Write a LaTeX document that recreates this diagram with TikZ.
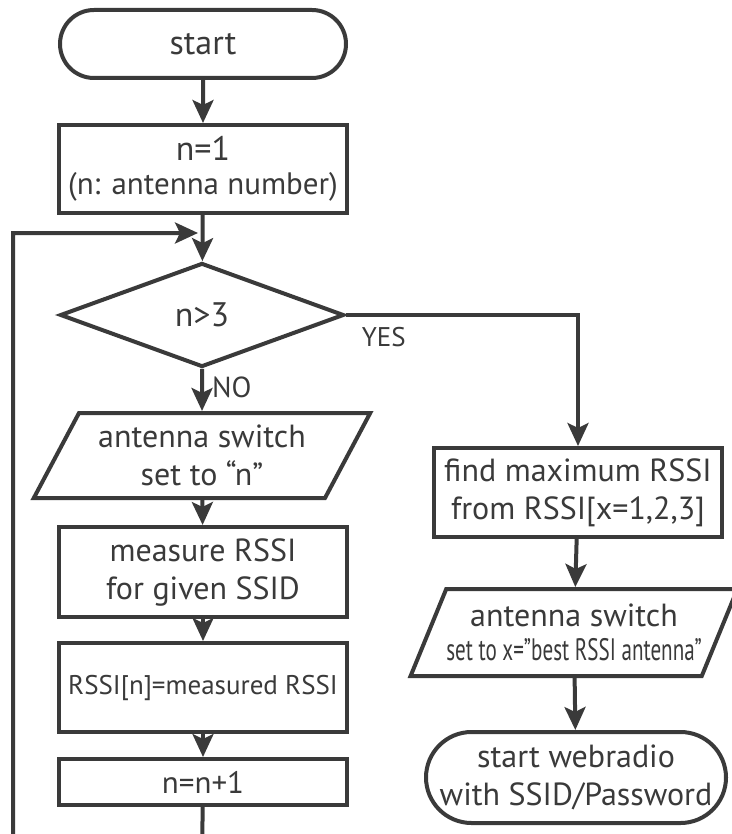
\documentclass[tikz,border=0pt]{standalone}
\usepackage{fontspec}
\setmainfont{PT Sans}
\usepackage{graphicx}
\usetikzlibrary{shapes.geometric,shapes.misc,arrows.meta}
\definecolor{ink}{HTML}{3A3A3A}

\begin{document}
\begin{tikzpicture}[x=0.5pt, y=-0.5pt, line join=miter, >={Stealth[length=11.5pt,width=10.5pt,inset=2.5pt]},
	font=\fontsize{16}{19}\selectfont,
	every node/.style={text=ink, align=center, inner sep=0pt},
	flow/.style={draw=ink, line width=2pt, fill=white},
	box/.style={flow, rectangle, minimum width=144pt},
	term/.style={flow, rounded rectangle, minimum width=143pt},
	io/.style={flow, trapezium, trapezium left angle=58, trapezium right angle=122, trapezium stretches=true},
	test/.style={flow, diamond, minimum width=142pt, minimum height=52pt},
	link/.style={draw=ink, line width=2pt, ->},
	big/.style={font=\fontsize{17}{20}\selectfont},
	small/.style={font=\fontsize{15.5}{18}\selectfont}]
	
	\useasboundingbox (0,0) rectangle (732,834);
	\clip (0,0) rectangle (732,834);
	
	\path 
		(202,233) coordinate (join)
		(13,233) coordinate (loopL)
		(202,860) coordinate (loopB)
	;
	
	% left column
	\node[term, big, minimum height=34pt] (start) at (203,44) {start};
	\node[box, minimum height=44pt] (init) at (203,169) {{\fontsize{17}{20}\selectfont n=1}\\[-2pt]{\fontsize{15.5}{18}\selectfont (n: antenna number)}};
	\node[test, big] (dec) at (202,315) {n>3};
	\node[io, minimum width=168.5pt, minimum height=42.5pt] (set) at (202,455.5) {antenna switch\\set to “n”};
	\node[box, minimum height=45pt] (meas) at (203,572) {measure RSSI\\for given SSID};
	\node[box, font=\fontsize{13.5}{16}\selectfont, minimum height=44.5pt] (store) at (203,687.5) {RSSI[n]=measured RSSI};
	\node[box, small, minimum height=23pt] (incr) at (203,782) {n=n+1};
	
	% right column
	\node[box, minimum height=44.5pt] (find) at (578,492.5) {find maximum RSSI\\from RSSI[x=1,2,3]};
	\node[io, minimum width=163.5pt, minimum height=43.5pt] (best) at (574,632.5) {antenna switch\\[-2pt]{\fontsize{15.5}{17}\selectfont\scalebox{0.68}[1]{set to x=”best RSSI antenna”}}};
	\node[term, minimum width=143pt, minimum height=45.5pt] (radio) at (576,777.5) {start webradio\\with SSID/Password};
	
	\draw[link] (start) -- (init);
	\draw[link] (init) -- (dec);
	\draw[link] (dec) -- node[pos=0, anchor=north west, xshift=4pt, yshift=-3pt, font=\fontsize{14.5}{17}\selectfont] {NO} (set);
	\draw[link] (dec.east) -| node[pos=0.03, anchor=north west, yshift=-5pt, font=\fontsize{13.5}{16}\selectfont] {YES} (find.north);
	\draw[link] (set) -- (meas);
	\draw[link] (meas) -- (store);
	\draw[link] (store) -- (incr);
	\draw[link, shorten >=2pt] (incr) -- (loopB) -| (loopL) -- (join);
	\draw[link] (find) -- (best);
	\draw[link] (best) -- (radio);
\end{tikzpicture}
\end{document}
